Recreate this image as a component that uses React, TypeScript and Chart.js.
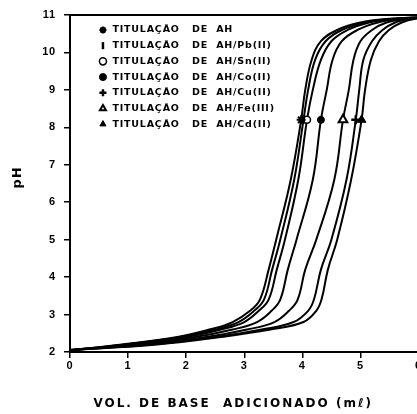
import React, { useEffect, useRef } from 'react';
import { Chart, registerables, LinearScale } from 'chart.js';

// ---- data ----
const PH_LEVELS = [2.05, 2.2, 2.4, 2.6, 2.8, 3.1, 3.4, 4.2, 5.0, 6.6, 8.2, 9.0, 9.8, 10.3, 10.6, 10.8, 10.9, 10.95];
const VOL_AH = [0, 0.9, 1.85, 2.4, 2.8, 3.1, 3.27, 3.42, 3.55, 3.8, 3.98, 4.05, 4.16, 4.32, 4.6, 5.0, 5.5, 6.3];
const VOL_PB = [0, 0.95, 1.9, 2.5, 2.9, 3.17, 3.34, 3.48, 3.62, 3.86, 4.02, 4.1, 4.22, 4.4, 4.68, 5.08, 5.55, 6.3];
const VOL_SN = [0, 1.0, 2.0, 2.6, 3.0, 3.25, 3.42, 3.56, 3.7, 3.93, 4.08, 4.18, 4.32, 4.5, 4.78, 5.15, 5.6, 6.3];
const VOL_CO = [0, 1.1, 2.15, 2.8, 3.22, 3.47, 3.62, 3.75, 3.9, 4.18, 4.32, 4.42, 4.52, 4.68, 4.95, 5.3, 5.7, 6.3];
const VOL_CU = [0, 1.4, 2.5, 3.3, 3.85, 4.1, 4.2, 4.32, 4.5, 4.76, 4.92, 4.98, 5.05, 5.2, 5.38, 5.6, 5.88, 6.3];
const VOL_FE = [0, 1.25, 2.35, 3.05, 3.52, 3.77, 3.92, 4.05, 4.24, 4.55, 4.7, 4.8, 4.88, 5.0, 5.2, 5.45, 5.8, 6.3];
const VOL_CD = [0, 1.5, 2.6, 3.45, 4.02, 4.24, 4.33, 4.44, 4.6, 4.84, 5.02, 5.08, 5.18, 5.32, 5.49, 5.71, 5.95, 6.3];
const MARKER_PH = 8.2;

const SERIES_LABELS = [
  'TITULAÇÃO   DE  AH',
  'TITULAÇÃO   DE  AH/Pb(II)',
  'TITULAÇÃO   DE  AH/Sn(II)',
  'TITULAÇÃO   DE  AH/Co(II)',
  'TITULAÇÃO   DE  AH/Cu(II)',
  'TITULAÇÃO   DE  AH/Fe(III)',
  'TITULAÇÃO   DE  AH/Cd(II)',
];
const SERIES_VOLS = [VOL_AH, VOL_PB, VOL_SN, VOL_CO, VOL_CU, VOL_FE, VOL_CD];

const X_MIN = 0, X_MAX = 6, X_STEP = 1;
const Y_MIN = 2, Y_MAX = 11, Y_STEP = 1;
const X_TITLE = 'VOL. DE BASE  ADICIONADO (mℓ)';
const Y_TITLE = 'pH';

// ---- styles ----
const MARKERS = [
  { style: 'star', bg: '#000', bw: 2, r: 4.5, rot: 0 },
  { style: 'line', bg: '#000', bw: 2.5, r: 4, rot: 90 },
  { style: 'circle', bg: '#fff', bw: 1.5, r: 3.5, rot: 0 },
  { style: 'circle', bg: '#000', bw: 1, r: 3.5, rot: 0 },
  { style: 'cross', bg: '#000', bw: 2.5, r: 4.5, rot: 0 },
  { style: 'triangle', bg: '#fff', bw: 2, r: 5, rot: 0 },
  { style: 'triangle', bg: '#000', bw: 1, r: 5, rot: 0 },
];
const TITLE_STYLE: Record<string, { spacing: string; dx: number; dy: number }> = {
  x: { spacing: '2px', dx: -11, dy: 0 },
  y: { spacing: '1px', dx: 0, dy: -6 },
};
const TEXT_SPACING = '0.8px';
const LEGEND_LEFT = 92;
const LEGEND_TOP = 19;

class TitledLinearScale extends LinearScale {
  static id = 'titledLinear';
  static defaults = {};
  drawTitle() {
    const ctx = this.ctx as any;
    const st = TITLE_STYLE[this.id];
    ctx.save();
    if (st) {
      ctx.letterSpacing = st.spacing;
      ctx.translate(st.dx, st.dy);
    }
    super.drawTitle();
    ctx.restore();
  }
}

Chart.register(...registerables, TitledLinearScale);

const legendPlacement = {
  id: 'legendPlacement',
  afterLayout(chart: any) {
    const l = chart.legend;
    if (!l) return;
    l.left = LEGEND_LEFT;
    l.top = LEGEND_TOP;
    l.right = LEGEND_LEFT + 250;
    l.bottom = LEGEND_TOP + 200;
  },
  beforeDraw(chart: any) {
    (chart.ctx as any).letterSpacing = TEXT_SPACING;
  },
  afterDraw(chart: any) {
    (chart.ctx as any).letterSpacing = '0px';
  },
};

export default function App() {
  const ref = useRef<HTMLCanvasElement>(null);
  useEffect(() => {
    if (!ref.current) return;
    const tickFont = { family: "'Liberation Sans', Arial, sans-serif", weight: 'bold' as const, size: 11 };
    const datasets = SERIES_LABELS.map((label, i) => {
      const m = MARKERS[i];
      return {
        label,
        data: PH_LEVELS.map((ph, k) => ({ x: SERIES_VOLS[i][k], y: ph })),
        borderColor: '#000',
        backgroundColor: m.bg,
        borderWidth: 2,
        fill: false,
        tension: 0.4,
        pointStyle: m.style,
        pointRotation: m.rot,
        pointBackgroundColor: m.bg,
        pointBorderColor: '#000',
        pointBorderWidth: m.bw,
        pointRadius: (c: any) => (PH_LEVELS[c.dataIndex] === MARKER_PH ? m.r : 0),
        pointHoverRadius: 0,
      };
    });
    const chart = new Chart(ref.current, {
      type: 'line',
      data: { datasets },
      options: {
        animation: false,
        responsive: false,
        devicePixelRatio: 1,
        layout: { padding: { top: 15, right: 11.5, bottom: 0, left: 0 } },
        plugins: {
          tooltip: { enabled: false },
          legend: {
            display: true,
            position: 'chartArea',
            align: 'start',
            labels: {
              usePointStyle: true,
              boxWidth: 20,
              boxHeight: 5,
              padding: 6.2,
              color: '#000',
              font: { family: "'DejaVu Sans', sans-serif", weight: 'bold', size: 9.5 },
            },
          },
        },
        scales: {
          x: {
            type: 'titledLinear' as any,
            position: 'bottom',
            min: X_MIN,
            max: X_MAX,
            afterFit: (s: any) => { s.height = 62; },
            ticks: { stepSize: X_STEP, color: '#000', font: tickFont, padding: 1, maxRotation: 0 },
            grid: { drawOnChartArea: false, drawTicks: true, tickLength: 6, color: '#000', lineWidth: 1.5 },
            border: { display: true, color: '#000', width: 2 },
            title: {
              display: true,
              text: X_TITLE,
              color: '#000',
              font: { family: "'DejaVu Sans', sans-serif", weight: 'bold', size: 12 },
              padding: { top: 0, bottom: 3 },
            },
          },
          xTop: {
            type: 'linear',
            position: 'top',
            min: X_MIN,
            max: X_MAX,
            ticks: { display: false },
            grid: { display: false, drawTicks: false },
            border: { display: true, color: '#000', width: 2 },
          },
          y: {
            type: 'titledLinear' as any,
            position: 'left',
            min: Y_MIN,
            max: Y_MAX,
            afterFit: (s: any) => { s.width = 70; },
            ticks: { stepSize: Y_STEP, color: '#000', font: tickFont, padding: 8 },
            grid: { drawOnChartArea: false, drawTicks: true, tickLength: 6, color: '#000', lineWidth: 1.5 },
            border: { display: true, color: '#000', width: 2 },
            title: {
              display: true,
              text: Y_TITLE,
              color: '#000',
              font: { family: "'DejaVu Sans', sans-serif", weight: 'bold', size: 13 },
              padding: { top: 10, bottom: 0 },
            },
          },
        },
      } as any,
      plugins: [legendPlacement],
    });
    return () => chart.destroy();
  }, []);
  return (
    <div style={{ position: 'absolute', left: 0, top: 0, width: 417, height: 414, overflow: 'hidden', background: '#fff' }}>
      <canvas ref={ref} width={430} height={414} style={{ display: 'block', width: 430, height: 414 }} />
    </div>
  );
}
